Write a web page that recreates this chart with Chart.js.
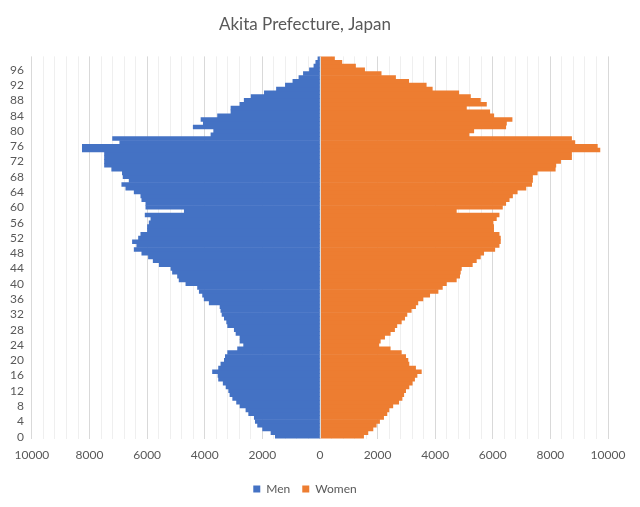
<!DOCTYPE html>
<html>
<head>
<meta charset="utf-8">
<title>Akita Prefecture, Japan</title>
<script src="https://cdn.jsdelivr.net/npm/chart.js@4"></script>
<style>
  html, body { margin: 0; padding: 0; background: #fff; }
  #wrap { width: 640px; height: 507px; }
</style>
</head>
<body>
<div id="wrap"><canvas id="chart"></canvas></div>
<script>
// ---- DATA ----
const ages = [
  0, 1, 2, 3, 4, 5, 6, 7, 8, 9, 10, 11, 12, 13, 14, 15, 16, 17, 18, 19,
  20, 21, 22, 23, 24, 25, 26, 27, 28, 29, 30, 31, 32, 33, 34, 35, 36, 37, 38, 39,
  40, 41, 42, 43, 44, 45, 46, 47, 48, 49, 50, 51, 52, 53, 54, 55, 56, 57, 58, 59,
  60, 61, 62, 63, 64, 65, 66, 67, 68, 69, 70, 71, 72, 73, 74, 75, 76, 77, 78, 79,
  80, 81, 82, 83, 84, 85, 86, 87, 88, 89, 90, 91, 92, 93, 94, 95, 96, 97, 98, 99
];

// men, age 0 .. 99
const men = [
  1550, 1700, 1990, 2165, 2245, 2280, 2475, 2570, 2775, 2895,
  3030, 3125, 3170, 3260, 3360, 3520, 3540, 3730, 3520, 3440,
  3320, 3285, 3205, 2860, 2650, 2775, 2775, 2915, 2975, 3205,
  3240, 3320, 3400, 3440, 3470, 3845, 4020, 4075, 4190, 4250,
  4655, 4890, 4945, 5120, 5175, 5580, 5790, 5955, 6185, 6450,
  6360, 6510, 6300, 6220, 5990, 5990, 5930, 5870, 6070, 4710,
  6045, 6045, 6185, 6220, 6450, 6740, 6880, 6625, 6835, 6860,
  7230, 7480, 7480, 7480, 7480, 8250, 8250, 6950, 7200, 3785,
  3690, 4400, 4050, 4130, 3555, 3090, 3090, 2780, 2630, 2390,
  1930, 1510, 1200, 940, 730, 575, 365, 210, 145, 70
];

// women, age 0 .. 99
const women = [
  1515, 1665, 1840, 1955, 2070, 2210, 2325, 2395, 2530, 2735,
  2850, 2910, 2975, 3090, 3205, 3285, 3370, 3520, 3320, 3090,
  3055, 2975, 2825, 2440, 2045, 2095, 2245, 2440, 2590, 2670,
  2825, 2940, 3020, 3170, 3320, 3400, 3575, 3810, 4100, 4250,
  4390, 4735, 4850, 4875, 4910, 5290, 5430, 5570, 5685, 6070,
  6220, 6265, 6265, 6220, 6030, 6030, 6010, 6125, 6220, 4735,
  6335, 6450, 6570, 6685, 6850, 7150, 7350, 7380, 7380, 7545,
  8170, 8190, 8355, 8735, 8735, 9720, 9630, 8850, 8735, 5175,
  5340, 6450, 6475, 6670, 6035, 5895, 5085, 5780, 5570, 5225,
  4820, 3900, 3690, 3080, 2625, 2125, 1550, 1235, 760, 505
];

const xTicks = [-10000, -8000, -6000, -4000, -2000, 0, 2000, 4000, 6000, 8000, 10000];

// ---- STYLE ----
const TEXT = '#595959';
const FONT = 'Lato, "Open Sans", sans-serif';

// thin grey line on the zero axis, drawn over the bars
const zeroLine = {
  id: 'zeroLine',
  afterDatasetsDraw(chart) {
    const x = chart.scales.x.getPixelForValue(0);
    const { top, bottom } = chart.chartArea;
    const c = chart.ctx;
    c.save();
    c.strokeStyle = '#d9d9d9';
    c.lineWidth = 1;
    c.beginPath();
    c.moveTo(Math.round(x) + 0.5, top);
    c.lineTo(Math.round(x) + 0.5, bottom);
    c.stroke();
    c.restore();
  }
};

const ctx = document.getElementById('chart').getContext('2d');
const chart = new Chart(ctx, {
  type: 'bar',
  data: {
    labels: ages,
    datasets: [
      { label: 'Men',   data: men.map(v => -v), backgroundColor: '#4472C4', borderWidth: 0,
        barPercentage: 1, categoryPercentage: 1 },
      { label: 'Women', data: women,            backgroundColor: '#ED7D31', borderWidth: 0,
        barPercentage: 1, categoryPercentage: 1 }
    ]
  },
  options: {
    indexAxis: 'y',
    responsive: true,
    maintainAspectRatio: false,
    animation: false,
    layout: { padding: { left: 2, right: 32, top: 0, bottom: 2 } },
    scales: {
      x: {
        stacked: true,
        min: -10000,
        max: 10000,
        ticks: {
          stepSize: 400,
          autoSkip: false,
          maxRotation: 0,
          color: TEXT,
          font: { family: FONT, size: 12 },
          padding: 9,
          callback: v => (xTicks.includes(v) ? String(Math.abs(v)) : '')
        },
        grid: {
          drawTicks: false,
          color: c => (xTicks.includes(c.tick.value) ? '#d9d9d9' : '#efefef'),
          lineWidth: 1
        },
        border: { display: false }
      },
      y: {
        stacked: true,
        reverse: true,
        ticks: {
          autoSkip: false,
          color: TEXT,
          font: { family: FONT, size: 12 },
          padding: 8,
          callback: (v, i) => (i % 4 === 0 ? String(ages[i]) : '')
        },
        grid: { display: false, drawTicks: false },
        border: { display: false }
      }
    },
    plugins: {
      title: {
        display: true,
        text: 'Akita Prefecture, Japan',
        color: TEXT,
        font: { family: FONT, size: 17, weight: 'normal' },
        padding: { top: 14, bottom: 22 }
      },
      legend: {
        position: 'bottom',
        labels: {
          color: TEXT,
          font: { family: FONT, size: 12 },
          boxWidth: 7,
          boxHeight: 7,
          padding: 12
        }
      },
      tooltip: { enabled: false }
    }
  },
  plugins: [zeroLine]
});
</script>
</body>
</html>
